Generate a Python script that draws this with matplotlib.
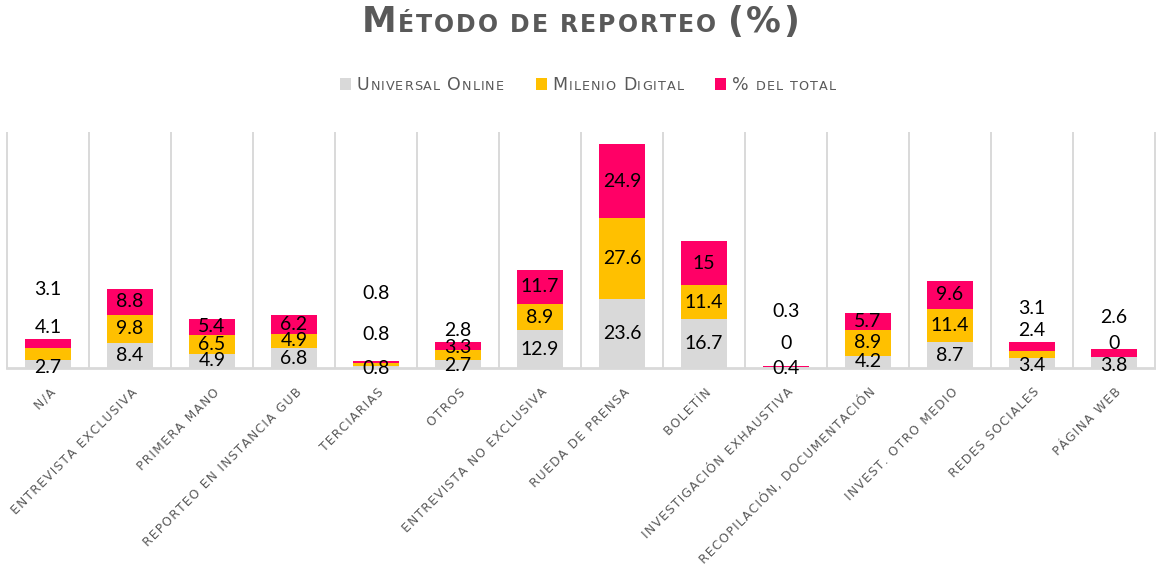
import numpy as np
import matplotlib
matplotlib.use('Agg')
from matplotlib import pyplot as plt
from matplotlib.patches import Rectangle
from matplotlib.transforms import IdentityTransform, ScaledTranslation

# datos (%)
categorias = ['n/a', 'entrevista exclusiva', 'primera mano', 'reporteo en instancia gub',
              'terciarias', 'otros', 'entrevista no exclusiva', 'rueda de prensa', 'boletín',
              'investigación exhaustiva', 'recopilación, documentación', 'invest. otro medio',
              'redes sociales', 'página web']
universal = [2.7, 8.4, 4.9, 6.8, 0.8, 2.7, 12.9, 23.6, 16.7, 0.4, 4.2, 8.7, 3.4, 3.8]
milenio = [4.1, 9.8, 6.5, 4.9, 0.8, 3.3, 8.9, 27.6, 11.4, 0, 8.9, 11.4, 2.4, 0]
del_total = [3.1, 8.8, 5.4, 6.2, 0.8, 2.8, 11.7, 24.9, 15, 0.3, 5.7, 9.6, 3.1, 2.6]
series = ['Universal Online', 'Milenio Digital', '% del total']
colores = ['#D9D9D9', '#FFC000', '#FF0066']

# etiquetas movidas a mano en las barras chicas (posicion y de cada etiqueta)
etiquetas_movidas = {0: (0.3, 13.9, 26.8), 4: (-0.2, 11.5, 25.5), 5: (0.7, 7.1, 12.6),
                     9: (-0.2, 8.5, 19.4), 12: (0.7, 12.6, 20.4), 13: (0.7, 8.5, 17.3)}

W, H = 1156, 572
gris = '#595959'
fig = plt.figure(figsize=(W / 100, H / 100), dpi=100)
ax = fig.add_axes([7 / W, 204 / H, 1148 / W, 235 / H])

x = np.arange(len(categorias))
valores = [universal, milenio, del_total]
base = np.zeros(len(categorias))
for k in range(3):
    v = np.array(valores[k], dtype=float)
    ax.bar(x, v, 0.56, bottom=base, color=colores[k], zorder=2)
    for i in range(len(x)):
        if i in etiquetas_movidas:
            yl = etiquetas_movidas[i][k]
        else:
            yl = base[i] + v[i] / 2
        ax.text(x[i], yl, '{:g}'.format(v[i]), ha='center', va='center',
                fontsize=14, family='Lato', color='black', zorder=3)
    base += v

ax.set_xlim(-0.5, len(categorias) - 0.5)
ax.set_ylim(0, 80)
for xv in np.arange(-0.5, len(categorias), 1.0):
    ax.axvline(xv, color='#D9D9D9', lw=1.4, clip_on=False, zorder=1)
for s in ['top', 'left', 'right']:
    ax.spines[s].set_visible(False)
ax.spines['bottom'].set_color('#D9D9D9')
ax.spines['bottom'].set_linewidth(2)
ax.set_yticks([])

etiq = ['\u200a'.join(c.upper()) for c in categorias]
ax.set_xticks(x)
ax.set_xticklabels(etiq, rotation=45, ha='right', va='center', rotation_mode='anchor',
                   fontsize=8.8, color=gris, family='DejaVu Sans')
ax.tick_params(axis='x', length=0, pad=16)
for lab in ax.get_xticklabels():
    lab.set_transform(lab.get_transform() + ScaledTranslation(4 / 72, 0, fig.dpi_scale_trans))

renderer = fig.canvas.get_renderer()


def versalitas(texto, grande, chica, tracking, espacio, **kw):
    # dibuja letra por letra imitando small caps, devuelve lista de (Text, ancho)
    piezas = []
    for ch in texto:
        if ch == ' ':
            piezas.append((None, espacio))
            continue
        size = chica if ch.islower() else grande
        t = fig.text(0, 0, ch.upper(), fontsize=size, transform=IdentityTransform(),
                     va='baseline', ha='left', **kw)
        w = t.get_window_extent(renderer).width
        piezas.append((t, w + tracking))
    return piezas


def colocar(piezas, x0, y0):
    xx = x0
    for t, w in piezas:
        if t is not None:
            t.set_position((xx, y0))
        xx += w
    return xx


# titulo
tit = versalitas('Método de reporteo (%)', 25, 17, 2, 10, color=gris, weight='bold',
                 family='DejaVu Sans')
ancho = sum(w for t, w in tit)
colocar(tit, 581 - ancho / 2, H - 32)

# leyenda
items = []
for nombre in series:
    items.append(versalitas(nombre, 12.5, 9.2, 1.0, 6, color=gris, family='DejaVu Sans'))
cuadro, sep_txt, sep_item = 11, 6, 31
total_ley = sum(cuadro + sep_txt + sum(w for t, w in p) for p in items) + sep_item * (len(items) - 1)
xx = 588 - total_ley / 2
y_base = H - 90
for p, c in zip(items, colores):
    fig.add_artist(Rectangle((xx, y_base), cuadro, cuadro + 1, transform=IdentityTransform(),
                             facecolor=c, edgecolor='none'))
    xx = colocar(p, xx + cuadro + sep_txt, y_base) + sep_item

fig.savefig('out.png', dpi=100, facecolor='white')
